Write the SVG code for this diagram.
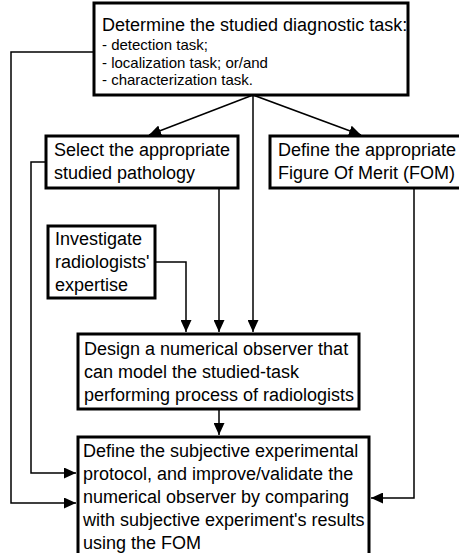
<svg xmlns="http://www.w3.org/2000/svg" width="459" height="553" viewBox="0 0 459 553">
<style>
.box{fill:#fff;stroke:#000;stroke-width:3}
.t{font-family:"Liberation Sans",Arial,sans-serif;font-size:18px;fill:#000}
.s{font-family:"Liberation Sans",Arial,sans-serif;font-size:15px;fill:#000}
.c{fill:none;stroke:#000;stroke-width:1.5}
</style>
<defs>
<marker id="ah" markerUnits="userSpaceOnUse" markerWidth="13" markerHeight="11" refX="12" refY="5.5" orient="auto">
<path d="M0,0 L12,5.5 L0,11 z" fill="#000"/>
</marker>
</defs>
<rect width="459" height="553" fill="#fff"/>
<g id="connectors">
<path class="c" d="M253,95 L149,135" marker-end="url(#ah)"/>
<path class="c" d="M253,95 L361,135" marker-end="url(#ah)"/>
<path class="c" d="M253,95 L253,332" marker-end="url(#ah)"/>
<path class="c" d="M94,52 L11,52 L11,503 L76,503" marker-end="url(#ah)"/>
<path class="c" d="M46,162 L31,162 L31,473 L76,473" marker-end="url(#ah)"/>
<path class="c" d="M219,188 L219,332" marker-end="url(#ah)"/>
<path class="c" d="M155,262 L186,262 L186,332" marker-end="url(#ah)"/>
<path class="c" d="M414,188 L414,498 L371,498" marker-end="url(#ah)"/>
<path class="c" d="M219,409 L219,435" marker-end="url(#ah)"/>
</g>
<g id="task">
<rect class="box" x="94" y="3" width="314" height="92"/>
<text class="t" x="102" y="31">Determine the studied diagnostic task:</text>
<text class="s" x="102" y="50">- detection task;</text>
<text class="s" x="102" y="67.5">- localization task; or/and</text>
<text class="s" x="102" y="85">- characterization task.</text>
</g>
<g id="pathology">
<rect class="box" x="46" y="136" width="192" height="52"/>
<text class="t" x="54" y="156">Select the appropriate</text>
<text class="t" x="54" y="179">studied pathology</text>
</g>
<g id="fom">
<rect class="box" x="270" y="136" width="195" height="52"/>
<text class="t" x="278" y="156">Define the appropriate</text>
<text class="t" x="278" y="179">Figure Of Merit (FOM)</text>
</g>
<g id="expertise">
<rect class="box" x="48" y="226" width="107" height="72"/>
<text class="t" x="55" y="245">Investigate</text>
<text class="t" x="55" y="268">radiologists'</text>
<text class="t" x="55" y="291">expertise</text>
</g>
<g id="observer">
<rect class="box" x="78" y="334" width="281" height="75"/>
<text class="t" x="84" y="355">Design a numerical observer that</text>
<text class="t" x="84" y="378">can model the studied-task</text>
<text class="t" x="84" y="401">performing process of radiologists</text>
</g>
<g id="protocol">
<rect class="box" x="78" y="437" width="291" height="122"/>
<text class="t" x="83" y="457">Define the subjective experimental</text>
<text class="t" x="83" y="480">protocol, and improve/validate the</text>
<text class="t" x="83" y="503">numerical observer by comparing</text>
<text class="t" x="83" y="526">with subjective experiment's results</text>
<text class="t" x="83" y="549">using the FOM</text>
</g>
</svg>
